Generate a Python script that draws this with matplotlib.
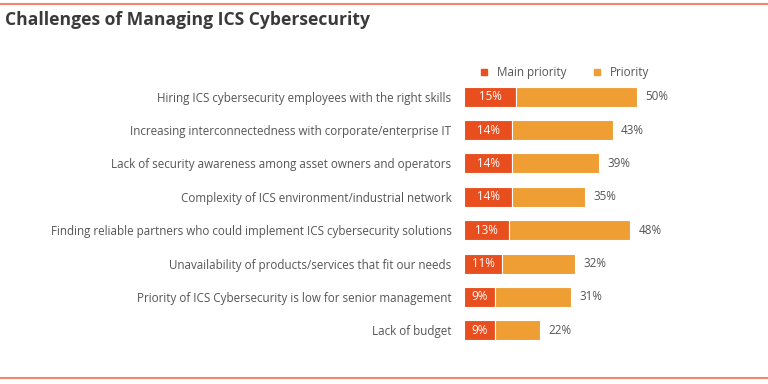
import matplotlib.pyplot as plt
from matplotlib.lines import Line2D

plt.rcParams['font.family'] = ['Open Sans', 'DejaVu Sans']

categories = [
    "Hiring ICS cybersecurity employees with the right skills",
    "Increasing interconnectedness with corporate/enterprise IT",
    "Lack of security awareness among asset owners and operators",
    "Complexity of ICS environment/industrial network",
    "Finding reliable partners who could implement ICS cybersecurity solutions",
    "Unavailability of products/services that fit our needs",
    "Priority of ICS Cybersecurity is low for senior management",
    "Lack of budget",
]
main_priority = [15, 14, 14, 14, 13, 11, 9, 9]
total_priority = [50, 43, 39, 35, 48, 32, 31, 22]

RED = "#E84E1E"
ORANGE = "#EF9E33"
GRAY = "#555555"
LINE = "#F2876A"
FS = 8.4

fig = plt.figure(figsize=(7.68, 3.84), dpi=100)
ax = fig.add_axes([464 / 768, 1 - 347 / 384, 207.6 / 768, 267 / 384])

y = list(range(len(categories)))
rest = [t - m for t, m in zip(total_priority, main_priority)]
ax.barh(y, main_priority, height=0.6, color=RED, edgecolor="white", linewidth=0.8)
ax.barh(y, rest, left=main_priority, height=0.6, color=ORANGE, edgecolor="white", linewidth=0.8)

for i, (m, t) in enumerate(zip(main_priority, total_priority)):
    ax.text(m / 2, i, f"{m}%", ha="center", va="center", color="white", fontsize=FS)
    ax.text(t + 2.4, i, f"{t}%", ha="left", va="center", color=GRAY, fontsize=FS)

ax.set_xlim(0, 60)
ax.set_ylim(len(categories) - 0.5, -0.5)
ax.set_yticks(y)
ax.set_yticklabels(categories, fontsize=FS, color=GRAY)
ax.tick_params(axis="y", length=0, pad=9)
ax.set_xticks([])
for s in ax.spines.values():
    s.set_visible(False)

handles = [
    Line2D([], [], marker="s", linestyle="", color=RED, markersize=4.5, label="Main priority"),
    Line2D([], [], marker="s", linestyle="", color=ORANGE, markersize=4.5, label="Priority"),
]
ax.legend(handles=handles, ncol=2, frameon=False, loc="lower left",
          bbox_to_anchor=(0.02, 0.985), fontsize=FS, labelcolor=GRAY,
          handletextpad=0.1, columnspacing=1.6, borderaxespad=0)

fig.text(5 / 768, 1 - 20 / 384, "Challenges of Managing ICS Cybersecurity",
         fontsize=12.6, fontweight="bold", color="#3a3a3a", va="center", ha="left")
fig.add_artist(Line2D([0, 1], [1 - 4 / 384, 1 - 4 / 384], color=LINE, lw=1.5))
fig.add_artist(Line2D([0, 1], [1 - 378 / 384, 1 - 378 / 384], color=LINE, lw=1.5))

fig.savefig("out.png", dpi=100)
